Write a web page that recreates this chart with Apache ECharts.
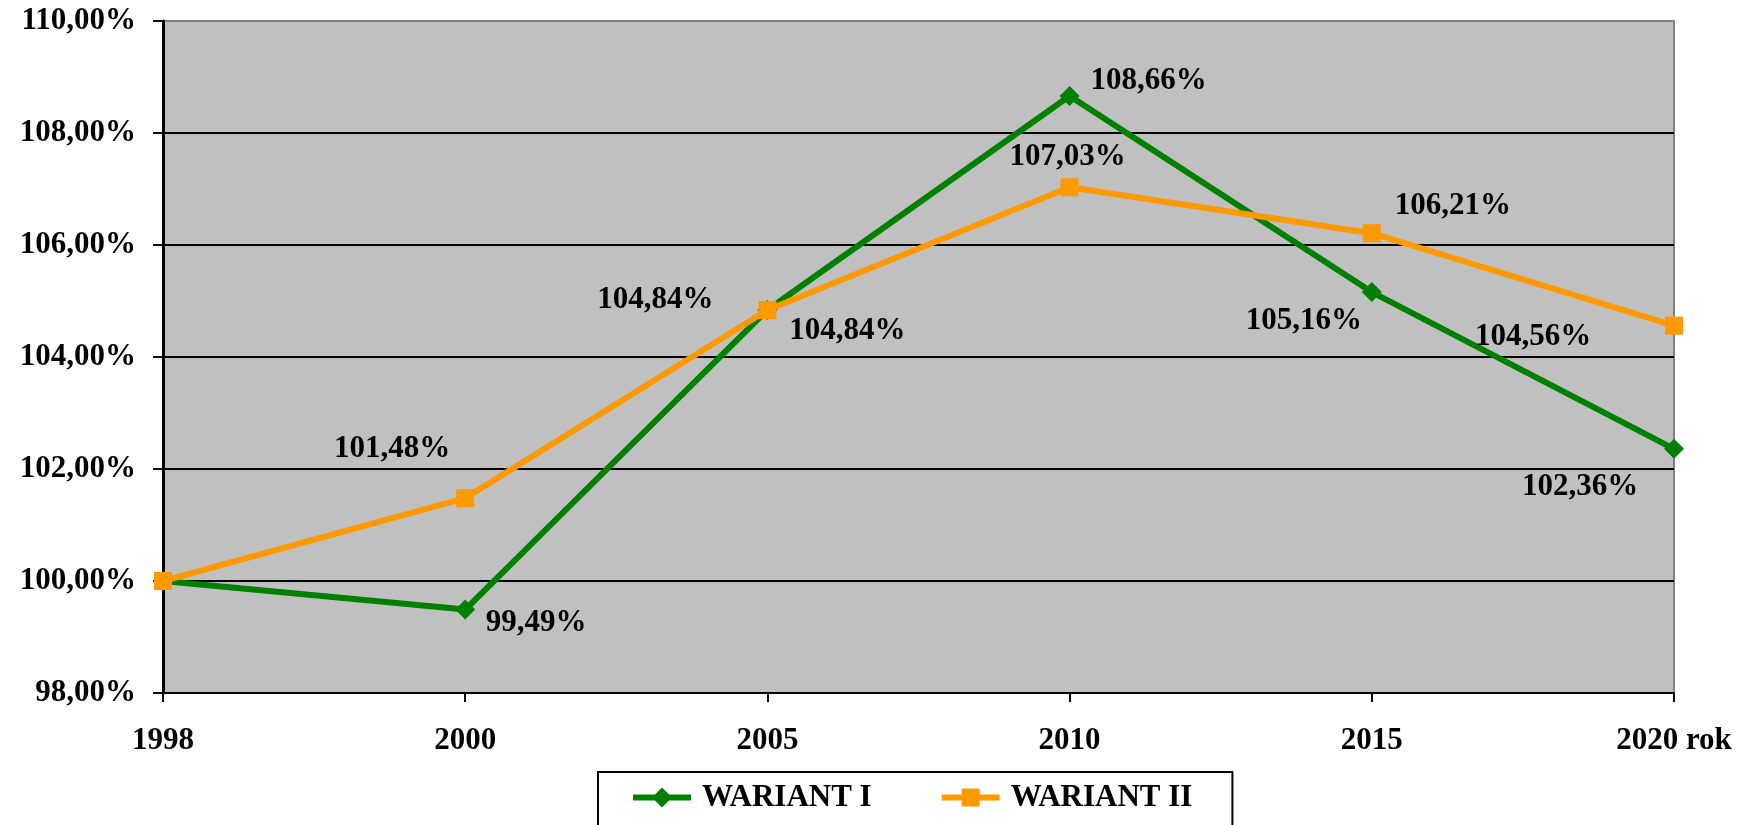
<!DOCTYPE html>
<html>
<head>
<meta charset="utf-8">
<script src="https://cdn.jsdelivr.net/npm/echarts@6/dist/echarts.min.js"></script>
<style>
  html, body { margin: 0; padding: 0; background: #fff; }
  #chart { width: 1749px; height: 825px; }
</style>
</head>
<body>
<div id="chart"></div>
<script>
// lata i wartosci
var years    = ['1998', '2000', '2005', '2010', '2015', '2020 rok'];
var wariant1 = [100.00, 99.49, 104.84, 108.66, 105.16, 102.36];
var wariant2 = [100.00, 101.48, 104.84, 107.03, 106.21, 104.56];
var yTicks   = { min: 98, max: 110, step: 2 };

// przesuniecia etykiet (srodek tekstu wzgledem punktu)
var offs1 = [null, [71, 13], [-112, -10], [79, -15], [-68, 29], [-94, 38]];
var offs2 = [null, [-73, -49], [80, 21], [-2, -30], [81, -27], [-141, 11]];

var FONT = 'Liberation Serif';

// ikony legendy: gruba linia + znacznik
var ICON_DIAMOND = 'path://M0,7 L22,7 L29,0 L36,7 L58,7 L58,13 L36,13 L29,20 L22,13 L0,13 Z';
var ICON_SQUARE  = 'path://M0,7 L20,7 L20,1 L38,1 L38,7 L58,7 L58,13 L38,13 L38,19 L20,19 L20,13 L0,13 Z';

function pct(v) {
    return v.toFixed(2).replace('.', ',') + '%';
}

function build_data(values, offs) {
    var out = [];
    for (var i = 0; i < values.length; i++) {
        var item = { value: values[i] };
        if (offs[i]) {
            item.label = { show: true, position: 'inside', offset: offs[i] };
        } else {
            item.label = { show: false };
        }
        out.push(item);
    }
    return out;
}

var labelStyle = {
    show: true,
    color: '#000',
    fontFamily: FONT,
    fontWeight: 'bold',
    fontSize: 31,
    formatter: function (p) { return pct(p.value); }
};

var myChart = echarts.init(document.getElementById('chart'));
var option = {
    animation: false,
    backgroundColor: '#fff',
    grid: {
        left: 163, right: 75, top: 21, bottom: 132,
        show: true,
        backgroundColor: '#C0C0C0',
        borderColor: '#808080',
        borderWidth: 2,
        outerBoundsMode: 'none'
    },
    legend: {
        left: 598,
        top: 772,
        padding: [10, 40, 30, 35],
        itemGap: 70,
        itemWidth: 58,
        itemHeight: 20,
        borderColor: '#000',
        borderWidth: 2,
        backgroundColor: '#fff',
        textStyle: {
            color: '#000',
            fontFamily: FONT,
            fontWeight: 'bold',
            fontSize: 31,
            padding: [0, 0, 0, 6]
        },
        data: [
            { name: 'WARIANT I', icon: ICON_DIAMOND },
            { name: 'WARIANT II', icon: ICON_SQUARE }
        ]
    },
    xAxis: {
        type: 'category',
        boundaryGap: false,
        data: years,
        axisLine: { show: true, lineStyle: { color: '#000', width: 2 } },
        axisTick: { show: true, length: 9, lineStyle: { color: '#000', width: 2 } },
        axisLabel: {
            color: '#000',
            fontFamily: FONT,
            fontWeight: 'bold',
            fontSize: 31,
            margin: 32
        },
        splitLine: { show: false }
    },
    yAxis: {
        type: 'value',
        min: yTicks.min,
        max: yTicks.max,
        interval: yTicks.step,
        axisLine: { show: true, lineStyle: { color: '#000', width: 3 } },
        axisTick: { show: true, length: 10, lineStyle: { color: '#000', width: 2 } },
        axisLabel: {
            color: '#000',
            fontFamily: FONT,
            fontWeight: 'bold',
            fontSize: 31,
            margin: 27,
            formatter: function (v) { return pct(v); }
        },
        splitLine: {
            show: true,
            showMaxLine: false,
            lineStyle: { color: '#000', width: 2 }
        }
    },
    series: [
        {
            name: 'WARIANT I',
            type: 'line',
            data: build_data(wariant1, offs1),
            symbol: 'diamond',
            symbolSize: [20, 20],
            showAllSymbol: true,
            itemStyle: { color: '#008000' },
            lineStyle: { color: '#008000', width: 6 },
            label: labelStyle,
            z: 3
        },
        {
            name: 'WARIANT II',
            type: 'line',
            data: build_data(wariant2, offs2),
            symbol: 'rect',
            symbolSize: 18,
            showAllSymbol: true,
            itemStyle: { color: '#FF9900' },
            lineStyle: { color: '#FF9900', width: 6 },
            label: labelStyle,
            z: 4
        }
    ]
};
myChart.setOption(option);
</script>
</body>
</html>
